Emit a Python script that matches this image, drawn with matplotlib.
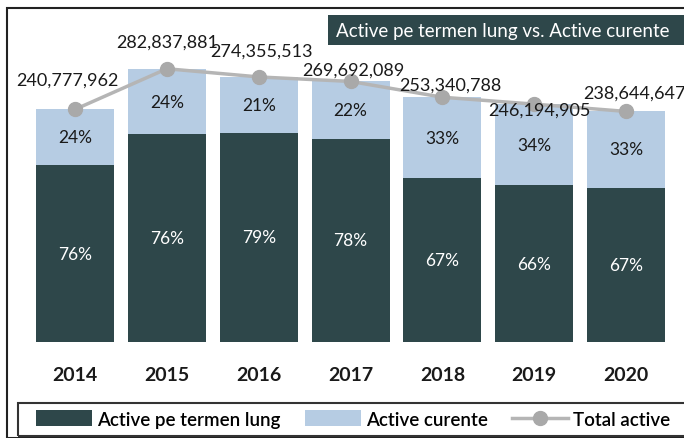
import matplotlib.pyplot as plt
from matplotlib.patches import Rectangle
import numpy as np

plt.rcParams['font.family'] = ['Lato', 'DejaVu Sans']

years = ['2014', '2015', '2016', '2017', '2018', '2019', '2020']
total_active = [240777962, 282837881, 274355513, 269692089, 253340788, 246194905, 238644647]
pct_long = [76, 76, 79, 78, 67, 66, 67]
pct_current = [24, 24, 21, 22, 33, 34, 33]

dark = '#2e474a'
light = '#b6cce3'
grey = '#a9a9a9'

total = np.array(total_active, dtype=float)
long_vals = total * np.array(pct_long) / 100
cur_vals = total * np.array(pct_current) / 100
x = np.arange(len(years))

fig = plt.figure(figsize=(6.84, 4.39), dpi=100)
ax = fig.add_axes([8 / 684, (439 - 343) / 439, 676 / 684, 334 / 439])

b1 = ax.bar(x, long_vals, width=0.85, color=dark, label='Active pe termen lung')
b2 = ax.bar(x, cur_vals, width=0.85, bottom=long_vals, color=light, label='Active curente')
ln, = ax.plot(x, total, color='#b5b5b5', lw=2.5, marker='o', ms=10,
              mfc=grey, mec=grey, label='Total active')

for i in range(len(x)):
    ax.text(x[i], long_vals[i] / 2, f'{pct_long[i]}%', ha='center', va='center',
            color='white', fontsize=12.5)
    ax.text(x[i], long_vals[i] + cur_vals[i] / 2, f'{pct_current[i]}%', ha='center',
            va='center', color='#1a1a1a', fontsize=12.5)

# value labels, nudged like the original
offsets = [(-8, 30), (0, 27), (3, 26), (3, 12), (8, 13), (5, -5), (8, 19)]
for i in range(len(x)):
    ax.annotate(f'{total_active[i]:,}', (x[i], total[i]), xytext=offsets[i],
                textcoords='offset pixels', ha='center', va='center',
                fontsize=13, color='#1a1a1a')

ax.set_xlim(-0.73, 6.63)
ax.set_ylim(0, 345.7e6)
ax.set_yticks([])
ax.set_xticks(x)
ax.set_xticklabels(years, fontsize=14, fontweight='bold', color='#1a1a1a')
ax.tick_params(axis='x', length=0, pad=17)
for s in ax.spines.values():
    s.set_visible(False)
ax.patch.set_alpha(0)

# outer frame
fig.patches.append(Rectangle((7 / 684, 0), 1, (439 - 9) / 439, transform=fig.transFigure,
                             fill=False, ec='#222222', lw=1.5))

# title box
fig.patches.append(Rectangle((328 / 684, (439 - 46) / 439), 1, 30 / 439,
                             transform=fig.transFigure, fc=dark, ec='none'))
fig.text(336 / 684, (439 - 31) / 439, 'Active pe termen lung vs. Active curente',
         color='white', fontsize=13.5, va='center', ha='left')

# legend box running off the right edge
fig.patches.append(Rectangle((18 / 684, 2 / 439), 1, 33 / 439, transform=fig.transFigure,
                             fill=False, ec='#333333', lw=1.5))
fig.legend([b1, b2, ln], ['Active pe termen lung', 'Active curente', 'Total active'],
           loc='center left', bbox_to_anchor=(36 / 684, 19 / 439),
           ncol=3, frameon=False, prop={'size': 13.5, 'weight': 'semibold'},
           handlelength=3.0, handleheight=0.9, columnspacing=1.3,
           handletextpad=0.25, borderaxespad=0, borderpad=0)

fig.savefig('out.png', dpi=100)
